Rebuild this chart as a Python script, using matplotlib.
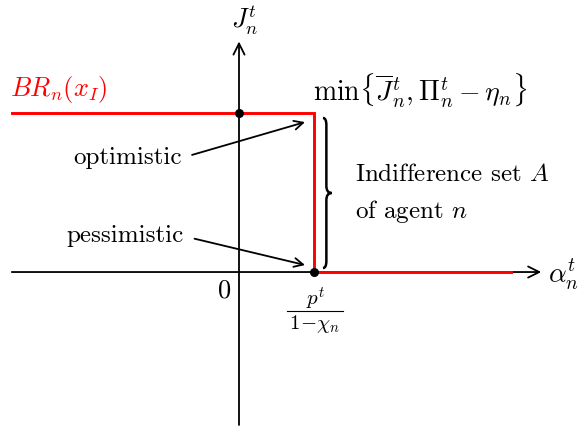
import matplotlib
matplotlib.use("Agg")
import matplotlib.pyplot as plt
from matplotlib.path import Path
from matplotlib.patches import PathPatch

plt.rcParams['mathtext.fontset'] = 'cm'
plt.rcParams['font.family'] = ['cmr10', 'DejaVu Serif']
plt.rcParams['axes.unicode_minus'] = False

# Best-response step function (in axis units)
br_x = [-3.027, 1.0, 1.0, 3.627]
br_y = [1.0, 1.0, 0.0, 0.0]
# marked points
pts_x = [0.0, 1.0]
pts_y = [1.0, 0.0]

fig = plt.figure(figsize=(5.83, 4.28), dpi=100)
ax = fig.add_axes([0, 0, 1, 1])
ax.set_xlim(-3.187, 4.587)
ax.set_ylim(-0.981, 1.711)
ax.axis('off')

# axes arrows
ax.annotate('', xy=(4.03, 0), xytext=(-3.03, 0),
            arrowprops=dict(arrowstyle='->', lw=1.3, color='black', mutation_scale=20, shrinkA=0, shrinkB=0))
ax.annotate('', xy=(0, 1.45), xytext=(0, -0.962),
            arrowprops=dict(arrowstyle='->', lw=1.3, color='black', mutation_scale=20, shrinkA=0, shrinkB=0))

ax.plot(br_x, br_y, color='#ff0000', lw=2.1, solid_joinstyle='miter', zorder=3)
ax.scatter(pts_x, pts_y, s=30, color='black', zorder=4)

fs = 18
ax.text(0.08, 1.585, r'$J_n^t$', fontsize=19, ha='center', va='center')
ax.text(4.33, -0.02, r'$\alpha_n^t$', fontsize=20, ha='center', va='center')
ax.text(-0.2, -0.12, r'$0$', fontsize=19, ha='center', va='center')
# fraction p^t / (1 - chi_n), composed
ax.text(1.02, -0.17, r'$p^t$', fontsize=15, ha='center', va='center')
ax.plot([0.64, 1.387], [-0.245, -0.245], color='black', lw=0.8)
ax.text(1.013, -0.325, r'$1\!-\!\chi_n$', fontsize=15, ha='center', va='center')
ax.text(-2.41, 1.145, r'$BR_n(x_I)$', fontsize=19, ha='center', va='center', color='#ff0000')
ax.text(2.41, 1.14, r'$\min\{\overline{J}_n^t,\Pi_n^t-\eta_n\}$', fontsize=20, ha='center', va='center')
ax.text(1.547, 0.61, r'Indifference set $A$', fontsize=fs, ha='left', va='center')
ax.text(1.547, 0.38, r'of agent $n$', fontsize=fs, ha='left', va='center')

ax.annotate('optimistic', xy=(0.88, 0.943), xytext=(-1.493, 0.717), fontsize=fs,
            ha='center', va='center',
            arrowprops=dict(arrowstyle='->', lw=1.3, color='black', mutation_scale=16,
                            relpos=(1, 0.5), shrinkA=6, shrinkB=0))
ax.annotate('pessimistic', xy=(0.88, 0.044), xytext=(-1.52, 0.226), fontsize=fs,
            ha='center', va='center',
            arrowprops=dict(arrowstyle='->', lw=1.3, color='black', mutation_scale=16,
                            relpos=(1, 0.5), shrinkA=6, shrinkB=0))

# curly brace
xl, xm, tip = 1.12, 1.165, 1.235
top, bot = 0.969, 0.025
mid = (top + bot) / 2
d = 0.045
verts = [(xl, top), (xm, top), (xm, top - d), (xm, mid + d), (xm, mid), (tip, mid),
         (xm, mid), (xm, mid - d), (xm, bot + d), (xm, bot), (xl, bot)]
codes = [Path.MOVETO, Path.CURVE3, Path.CURVE3, Path.LINETO, Path.CURVE3, Path.CURVE3,
         Path.CURVE3, Path.CURVE3, Path.LINETO, Path.CURVE3, Path.CURVE3]
ax.add_patch(PathPatch(Path(verts, codes), fill=False, lw=1.8, color='black'))

fig.savefig('out.png', dpi=100)
